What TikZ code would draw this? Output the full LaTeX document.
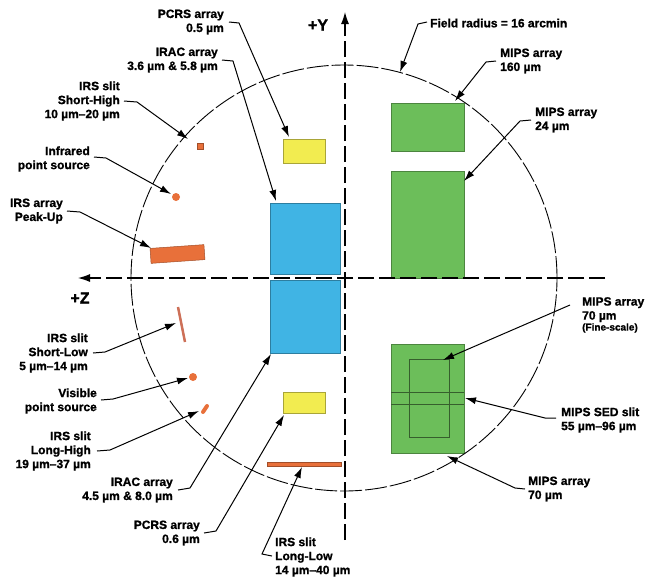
\documentclass[tikz,border=0pt]{standalone}
\usepackage{fontspec}
\setmainfont{Liberation Sans}[FakeBold=1.2]
\usetikzlibrary{arrows.meta}
\definecolor{iracblue}{RGB}{64,180,228}
\definecolor{mipsgreen}{RGB}{108,190,90}
\definecolor{pcrsyellow}{RGB}{242,236,80}
\definecolor{irsorange}{RGB}{232,112,58}
\definecolor{slitred}{RGB}{205,112,88}
\tikzset{
  lab/.style={font=\fontsize{12}{14}\selectfont\bfseries, inner sep=0pt},
  labl/.style={lab, align=right, anchor=east},
  labr/.style={lab, align=left, anchor=west},
  lead/.style={line width=1pt, -{Latex[length=11pt,width=7pt]}},
  axis/.style={line width=1.1pt, dash pattern=on 16pt off 5pt, -{Latex[length=12pt,width=8pt]}},
  arr/.style={draw=#1!70!black, fill=#1, line width=0.5pt, anchor=north west, inner sep=0pt},
  dot/.style={circle, fill=irsorange, minimum size=8pt, inner sep=0pt}
}

\begin{document}
\begin{tikzpicture}[x=1pt,y=-1pt]
  \useasboundingbox (0,0) rectangle (647,584);
  \node[arr=pcrsyellow, minimum width=42pt, minimum height=24pt] (pcrsTop) at (283,139) {};
  \node[arr=iracblue, minimum width=70pt, minimum height=71pt] (iracTop) at (270,203) {};
  \node[arr=iracblue, minimum width=70pt, minimum height=73pt] (iracBot) at (270,280) {};
  \node[arr=pcrsyellow, minimum width=42pt, minimum height=21pt] (pcrsBot) at (283,392) {};
  \node[arr=irsorange, minimum width=74pt, minimum height=4pt] (irsLL) at (267,462) {};
  \node[arr=mipsgreen, minimum width=73pt, minimum height=48pt] (mipsA) at (391,103) {};
  \node[arr=mipsgreen, minimum width=73pt, minimum height=107pt] (mipsB) at (391,171) {};
  \node[arr=mipsgreen, minimum width=73pt, minimum height=109pt] (mipsC) at (391,344) {};
  \draw[mipsgreen!50!black, line width=0.6pt] (409,359) rectangle (449,437);
  \draw[mipsgreen!50!black, line width=0.6pt] (391,392) -- (464,392) (391,404) -- (464,404);
  \node[arr=irsorange, minimum size=6pt] (irsSH) at (197,143) {};
  \node[dot] (irPoint) at (176,197) {};
  \node[arr=irsorange, minimum width=54pt, minimum height=15pt, anchor=center, rotate=4] (peakUp) at (177.5,254) {};
  \draw[slitred, line width=2.5pt] (178,307) -- (185,342);
  \node[dot] (visPoint) at (193,377) {};
  \draw[irsorange, line width=4pt, line cap=round] (203,412) -- (207,406);

  \draw[line width=0.9pt, dash pattern=on 22pt off 3pt] (344,278) circle [radius=213pt];
  \draw[axis] (605,278) -- (78,278);
  \draw[axis] (345,540) -- (345,12);
  \node[font=\fontsize{16}{18}\selectfont\bfseries] (yAxis) at (318,25) {+Y};
  \node[font=\fontsize{16}{18}\selectfont\bfseries] (zAxis) at (80,298) {+Z};

  \coordinate (tPcrsTop) at (289,137);
  \coordinate (tIracTop) at (276,201);
  \coordinate (tShortHigh) at (188,139);
  \coordinate (tIrPoint) at (171,194);
  \coordinate (tPeakUp) at (151,248);
  \coordinate (tShortLow) at (176,323);
  \coordinate (tVisPoint) at (188,378);
  \coordinate (tLongHigh) at (199,411);
  \coordinate (tIracBot) at (271,354);
  \coordinate (tPcrsBot) at (284,415);
  \coordinate (tLongLow) at (302,467);
  \coordinate (tField) at (400,72);
  \coordinate (tMipsA) at (455,101);
  \coordinate (tMipsB) at (464,181);
  \coordinate (tFine) at (443,360);
  \coordinate (tSed) at (465,398);
  \coordinate (tMipsC) at (447,456);

  \node[labl] (pcrsTopLab) at (224,22) {PCRS array\\0.5 µm};
  \node[labl] (iracTopLab) at (218,60) {IRAC array\\3.6 µm \& 5.8 µm};
  \node[labl] (shortHighLab) at (120,101) {IRS slit\\Short-High\\10 µm–20 µm};
  \node[labl] (irPointLab) at (90,159) {Infrared\\point source};
  \node[labl] (peakUpLab) at (63,211) {IRS array\\Peak-Up};
  \node[labl] (shortLowLab) at (88,353) {IRS slit\\Short-Low\\5 µm–14 µm};
  \node[labl] (visPointLab) at (97,401) {Visible\\point source};
  \node[labl] (longHighLab) at (91,451) {IRS slit\\Long-High\\19 µm–37 µm};
  \node[labl] (iracBotLab) at (173,490) {IRAC array\\4.5 µm \& 8.0 µm};
  \node[labl] (pcrsBotLab) at (200,533) {PCRS array\\0.6 µm};
  \node[labr] (longLowLab) at (275,557) {IRS slit\\Long-Low\\14 µm–40 µm};
  \node[labr] (fieldLab) at (430,23) {Field radius = 16 arcmin};
  \node[labr] (mipsALab) at (500,61) {MIPS array\\160 µm};
  \node[labr] (mipsBLab) at (535,120) {MIPS array\\24 µm};
  \node[lab, align=left, anchor=north west] (fineLab) at (582,297) {MIPS array\\70 µm\\[-3pt]{\fontsize{10}{11}\selectfont(Fine-scale)}};
  \node[labr] (sedLab) at (561,420) {MIPS SED slit\\55 µm–96 µm};
  \node[labr] (mipsCLab) at (528,489) {MIPS array\\70 µm};

  \draw[lead] ([xshift=5pt]pcrsTopLab.east) -- ++(10,1) -- (tPcrsTop);
  \draw[lead] ([xshift=4pt]iracTopLab.east) -- ++(11,1) -- (tIracTop);
  \draw[lead] ([xshift=4pt]shortHighLab.east) -- ++(13,1) -- (tShortHigh);
  \draw[lead] ([xshift=4pt,yshift=2pt]irPointLab.east) -- ++(12,1) -- (tIrPoint);
  \draw[lead] ([xshift=4pt]peakUpLab.east) -- ++(13,1) -- (tPeakUp);
  \draw[lead] ([xshift=5pt]shortLowLab.east) -- ++(12,-1) -- (tShortLow);
  \draw[lead] ([xshift=4pt,yshift=1pt]visPointLab.east) -- ++(12,-1) -- (tVisPoint);
  \draw[lead] ([xshift=6pt]longHighLab.east) -- ++(13,-1) -- (tLongHigh);
  \draw[lead] ([xshift=5pt]iracBotLab.east) -- ++(12,-2) -- (tIracBot);
  \draw[lead] ([xshift=4pt]pcrsBotLab.east) -- ++(12,-2) -- (tPcrsBot);
  \draw[lead] ([xshift=-3pt,yshift=1pt]longLowLab.west) -- ++(-10,-2) -- (tLongLow);
  \draw[lead] ([xshift=-3pt,yshift=1pt]fieldLab.west) -- ++(-9,2) -- (tField);
  \draw[lead] ([xshift=-4pt]mipsALab.west) -- ++(-10,1) -- (tMipsA);
  \draw[lead] ([xshift=-4pt]mipsBLab.west) -- ++(-11,1) -- (tMipsB);
  \draw[lead] ([xshift=-12pt,yshift=-8pt]fineLab.north west) -- (tFine);
  \draw[lead] ([xshift=-5pt,yshift=2pt]sedLab.west) -- ++(-11,0) -- (tSed);
  \draw[lead] ([xshift=-3pt]mipsCLab.west) -- ++(-10,-1) -- (tMipsC);
\end{tikzpicture}
\end{document}
